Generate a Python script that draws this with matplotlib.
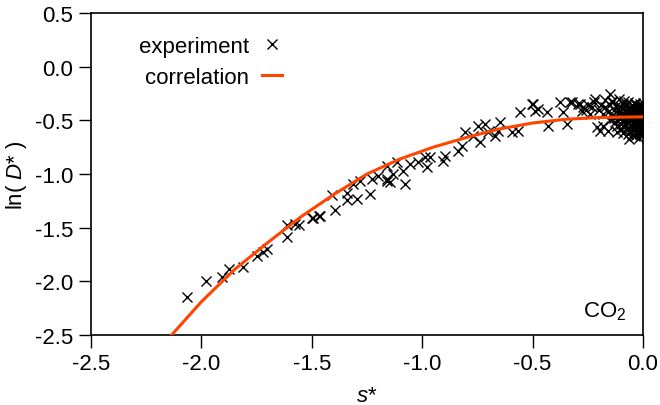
import matplotlib
matplotlib.use("Agg")
import matplotlib.pyplot as plt

plt.rcParams["font.family"] = ["Liberation Sans", "DejaVu Sans"]
plt.rcParams["mathtext.fontset"] = "custom"
plt.rcParams["mathtext.rm"] = "Liberation Sans"
plt.rcParams["mathtext.it"] = "Liberation Sans:italic"

exp_s = [
    -2.067, -1.979, -1.908, -1.876, -1.813, -1.750, -1.720, -1.704, -1.611, -1.611,
    -1.576, -1.558, -1.500, -1.466, -1.493, -1.463, -1.395, -1.410, -1.342, -1.342,
    -1.297, -1.312, -1.282, -1.236, -1.229, -1.199, -1.161, -1.158, -1.131, -1.116,
    -1.078, -1.086, -1.055, -1.018, -0.987, -0.980, -1.158, -1.146, -0.965, -0.897,
    -0.904, -0.836, -0.821, -0.806, -0.769, -0.746, -0.738, -0.716, -0.701, -0.670,
    -0.655, -0.648, -0.595, -0.565, -0.557, -0.497, -0.489, -0.504, -0.474, -0.436,
    -0.429, -0.376, -0.361, -0.346, -0.330, -0.323, -0.293, -0.285, -0.278, -0.270,
    -0.217, -0.210, -0.195, -0.150, -0.142,
    -0.26, -0.25, -0.24, -0.23, -0.22, -0.20, -0.19, -0.18, -0.18, -0.17,
    -0.17, -0.16, -0.16, -0.15, -0.15,
    -0.14, -0.13, -0.13, -0.12, -0.12, -0.11, -0.11, -0.10, -0.10, -0.10,
    -0.09, -0.09, -0.09, -0.08, -0.08, -0.08, -0.075, -0.07, -0.07, -0.07,
    -0.065, -0.06, -0.06, -0.06, -0.055, -0.05, -0.05, -0.05, -0.05, -0.045,
    -0.04, -0.04, -0.04, -0.04, -0.035, -0.035, -0.03, -0.03, -0.03, -0.03,
    -0.03, -0.025, -0.025, -0.02, -0.02, -0.02, -0.02, -0.02, -0.02, -0.015,
    -0.015, -0.015, -0.015, -0.01, -0.01, -0.01, -0.01, -0.01, -0.01, -0.005,
    -0.005, -0.005, -0.005, -0.005, -0.005, 0.0, 0.0, 0.0, 0.0, 0.0,
    0.0, 0.0,
    -0.135, -0.125, -0.115, -0.105, -0.095, -0.085, -0.078, -0.072, -0.066, -0.058,
    -0.052, -0.047, -0.042, -0.037, -0.032, -0.028, -0.024, -0.018, -0.013, -0.008,
    -0.003, -0.118, -0.098, -0.082, -0.068, -0.054, -0.044, -0.034, -0.026, -0.016,
    -0.007, -0.002, -0.088, -0.062, -0.038, -0.012,
]
exp_lnD = [
    -2.143, -1.997, -1.957, -1.885, -1.870, -1.760, -1.730, -1.699, -1.475, -1.590,
    -1.466, -1.475, -1.413, -1.389, -1.413, -1.394, -1.333, -1.200, -1.239, -1.177,
    -1.233, -1.093, -1.062, -1.186, -1.047, -1.016, -1.062, -0.923, -1.000, -0.891,
    -1.093, -0.970, -0.907, -0.891, -0.845, -0.938, -1.047, -1.077, -0.845, -0.829,
    -0.876, -0.783, -0.736, -0.612, -0.643, -0.550, -0.705, -0.534, -0.612, -0.643,
    -0.596, -0.519, -0.612, -0.596, -0.425, -0.348, -0.410, -0.348, -0.394, -0.425,
    -0.550, -0.332, -0.425, -0.534, -0.332, -0.332, -0.348, -0.348, -0.410, -0.379,
    -0.301, -0.565, -0.596, -0.255, -0.317,
    -0.40, -0.36, -0.44, -0.38, -0.33, -0.40, -0.36, -0.44, -0.55, -0.31,
    -0.38, -0.60, -0.42, -0.36, -0.50,
    -0.33, -0.40, -0.48, -0.36, -0.55, -0.42, -0.30, -0.46, -0.38, -0.58,
    -0.35, -0.50, -0.62, -0.41, -0.45, -0.53, -0.37, -0.48, -0.57, -0.33,
    -0.43, -0.39, -0.51, -0.60, -0.46, -0.36, -0.42, -0.55, -0.64, -0.49,
    -0.38, -0.44, -0.52, -0.59, -0.34, -0.47, -0.40, -0.43, -0.50, -0.56,
    -0.62, -0.37, -0.46, -0.41, -0.44, -0.48, -0.53, -0.58, -0.66, -0.35,
    -0.39, -0.45, -0.51, -0.42, -0.47, -0.49, -0.55, -0.61, -0.38, -0.36,
    -0.43, -0.46, -0.52, -0.57, -0.64, -0.40, -0.44, -0.47, -0.50, -0.54,
    -0.59, -0.34,
    -0.45, -0.52, -0.39, -0.49, -0.43, -0.56, -0.40, -0.51, -0.45, -0.48,
    -0.39, -0.57, -0.47, -0.41, -0.53, -0.45, -0.50, -0.43, -0.57, -0.41,
    -0.49, -0.61, -0.53, -0.37, -0.63, -0.39, -0.59, -0.35, -0.60, -0.37,
    -0.53, -0.44, -0.32, -0.67, -0.65, -0.63,
]

# correlation curve
corr_s = [-2.135, -2.0, -1.85, -1.7, -1.55, -1.4, -1.25, -1.1, -0.95, -0.8,
          -0.65, -0.5, -0.35, -0.2, -0.1, 0.0]
corr_lnD = [-2.50, -2.19, -1.89, -1.64, -1.40, -1.19, -1.00, -0.86, -0.75, -0.66,
            -0.58, -0.525, -0.49, -0.474, -0.47, -0.468]

fig = plt.figure(figsize=(6.6, 4.06), dpi=100)
ax = fig.add_axes([91 / 660, 1 - 336 / 406, 552 / 660, 322 / 406])

ax.plot(exp_s, exp_lnD, "x", color="black", markersize=6.5, markeredgewidth=1.0,
        label="experiment", zorder=3)
ax.plot(corr_s, corr_lnD, "-", color="#ff4500", lw=2.2, label="correlation", zorder=4)

ax.set_xlim(-2.5, 0.0)
ax.set_ylim(-2.5, 0.5)
ax.set_xticks([-2.5, -2.0, -1.5, -1.0, -0.5, 0.0])
ax.set_yticks([-2.5, -2.0, -1.5, -1.0, -0.5, 0.0, 0.5])
ax.set_xticklabels(["-2.5", "-2.0", "-1.5", "-1.0", "-0.5", "0.0"])
ax.set_yticklabels(["-2.5", "-2.0", "-1.5", "-1.0", "-0.5", "0.0", "0.5"])
ax.tick_params(direction="out", length=9, width=1.0, labelsize=16, pad=4,
               top=False, right=False)
for spine in ax.spines.values():
    spine.set_linewidth(1.2)

ax.set_xlabel(r"$s$*", fontsize=16, labelpad=8)
ax.set_ylabel(r"ln( $D$* )", fontsize=16, labelpad=4)

ax.text(0.97, 0.04, r"CO$_2$", transform=ax.transAxes, ha="right", va="bottom",
        fontsize=16)

ax.legend(loc="upper left", bbox_to_anchor=(0.05, 0.99), frameon=False,
          markerfirst=False, fontsize=16, handlelength=0.9, handletextpad=0.6,
          labelspacing=0.45)

fig.savefig("out.png", dpi=100)
